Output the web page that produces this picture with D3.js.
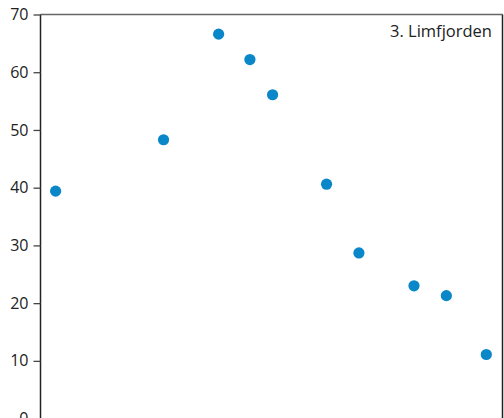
<!DOCTYPE html>
<html><head><meta charset="utf-8">
<script src="https://cdn.jsdelivr.net/npm/d3@7"></script>
<style>body{margin:0;background:#fff}svg{display:block}</style>
</head><body>
<script>
const xValues = [1.4, 11.4, 16.5, 19.4, 21.5, 26.5, 29.5, 34.6, 37.6, 41.3];
const yValues = [39.4, 48.3, 66.6, 62.2, 56.1, 40.6, 28.7, 23.0, 21.3, 11.1];
const yTicks = [0, 10, 20, 30, 40, 50, 60, 70];
const panelLabel = "3. Limfjorden";

const W = 504, H = 418;
const padL = 40.5, padR = 502.5, padT = 14.5, baseY0 = 418.6;
const svg = d3.select("body").append("svg").attr("width", W).attr("height", H);
const x = d3.scaleLinear().domain([0, 42.8]).range([padL, padR]);
const y = d3.scaleLinear().domain([0, 70]).range([baseY0, padT]);

// top border
svg.append("line").attr("x1", padL).attr("x2", padR).attr("y1", padT).attr("y2", padT)
  .attr("stroke", "#666").attr("stroke-width", 1.5);
// right border
svg.append("line").attr("x1", padR).attr("x2", padR).attr("y1", padT).attr("y2", H)
  .attr("stroke", "#222").attr("stroke-width", 1.5);

const yAxis = svg.append("g").attr("transform", `translate(${padL},0)`)
  .call(d3.axisLeft(y).tickValues(yTicks).tickSize(7).tickPadding(5).tickSizeOuter(0));
yAxis.select(".domain").attr("stroke", "#222").attr("stroke-width", 1.5)
  .attr("d", `M0,${padT}V${H}`);
yAxis.selectAll(".tick line").attr("stroke", "#444").attr("stroke-width", 1.3);
yAxis.selectAll(".tick text").attr("fill", "#222")
  .style("font-family", "'Open Sans', 'Noto Sans', sans-serif").style("font-size", "16px");

svg.append("text").attr("x", 492).attr("y", 37).attr("text-anchor", "end")
  .attr("fill", "#222").style("font-family", "'Open Sans', 'Noto Sans', sans-serif")
  .style("font-size", "16.5px").text(panelLabel);

svg.selectAll("circle.pt").data(xValues.map((v, i) => [v, yValues[i]]))
  .enter().append("circle").attr("class", "pt")
  .attr("cx", d => x(d[0])).attr("cy", d => y(d[1])).attr("r", 5.6)
  .attr("fill", "#0a87c9");
</script>
</body></html>
